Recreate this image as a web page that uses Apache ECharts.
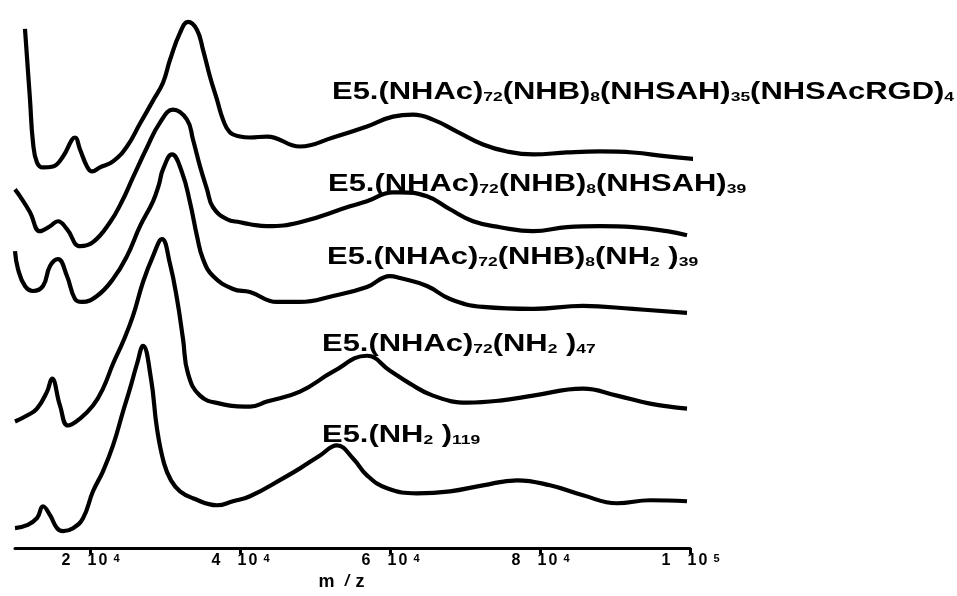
<!DOCTYPE html>
<html><head><meta charset="utf-8">
<script src="https://cdn.jsdelivr.net/npm/echarts@6/dist/echarts.min.js"></script>
<style>html,body{margin:0;padding:0;background:#fff}#c{width:957px;height:596px}</style>
</head><body><div id="c"></div>
<script>
// x axis (m/z) ticks and labels
const mzTicks = [20000, 40000, 60000, 80000, 100000];
const tickMantissa = ['2', '4', '6', '8', '1'];
const tickExponent = ['4', '4', '4', '4', '5'];
const axisTitle = ['m', '/', 'z'];

// label text parts: alternating [normal, subscript, normal, subscript, ...]
const label1 = ['E5.(NHAc)', '72', '(NHB)', '8', '(NHSAH)', '35', '(NHSAcRGD)', '4'];
const label2 = ['E5.(NHAc)', '72', '(NHB)', '8', '(NHSAH)', '39'];
const label3 = ['E5.(NHAc)', '72', '(NHB)', '8', '(NH', '2', ' )', '39'];
const label4 = ['E5.(NHAc)', '72', '(NH', '2', ' )', '47'];
const label5 = ['E5.(NH', '2', ' )', '119'];

// spectra: [m/z, stacked intensity (a.u., vertical offset included)]
const spec1 = [[11330,104.2],[12000,90],[12400,81.4],[12930,77.4],[13730,76.4],[15070,76.6],[16400,78.6],[17600,82],[18000,82.4],[18670,80],[19600,76.6],[20270,75.6],[21330,76.4],[23070,77.6],[24930,80.6],[26670,85.2],[28400,89.8],[29730,93.4],[30670,98],[32000,103.4],[33070,105.6],[34270,104],[35070,100],[36000,94.6],[36930,90],[37730,86],[38670,83.4],[40000,82.6],[41330,82.4],[43600,82.6],[48000,80.6],[52400,82.4],[56930,84.6],[60400,86.6],[63070,87],[65730,86],[68930,83.6],[72400,81],[75600,79.6],[79070,79],[83600,79.4],[88000,79.6],[92400,79.4],[96930,78.6],[101330,78]];
const spec2 = [[10000,72],[10670,70.6],[12000,67.4],[13330,63.6],[14670,64.6],[15730,65.6],[16930,64],[18670,60.6],[20400,61.4],[22670,65.4],[24270,69.6],[25730,74.4],[27600,80.4],[29330,85.4],[31070,88],[32930,86],[33730,82],[34670,76.6],[35600,72],[36400,68.4],[38270,66],[40000,65.4],[41330,65],[43600,64.6],[48000,65.4],[54670,68.6],[56930,69.6],[60400,71.4],[61330,71.4],[64930,70.6],[68000,68],[71070,65.6],[74670,64.4],[79070,63.6],[83600,64.4],[88000,64.6],[92400,64.4],[96930,63.6],[99600,62.8]];
const spec3 = [[10000,59.6],[10400,56],[11330,52.6],[12400,51.6],[13730,52.6],[14670,56.6],[15730,58],[16930,54.6],[18000,50],[18930,49.4],[20930,50.6],[23070,54],[24930,58.6],[26670,64.6],[28400,69.6],[29200,73],[29730,76],[30930,79],[32270,75.4],[33330,69.4],[34270,62.6],[35070,58],[36400,54.6],[39070,52],[41330,51.4],[44930,49.4],[48000,49.4],[52400,50.6],[56930,52.4],[60000,54.6],[61330,54.2],[64930,52.6],[68000,50],[72400,48.4],[79070,48],[85730,48.6],[92400,48],[99600,47.2]];
const spec4 = [[10000,25.4],[11600,26.6],[12930,28],[14270,31.4],[14930,34],[16000,28.6],[17070,24.6],[18670,26],[20400,28.6],[21730,32],[23070,37],[24400,41.4],[25730,46.6],[27070,53.4],[28400,58.6],[29600,62],[30670,57],[31600,50],[32400,42],[33070,35],[34670,30.6],[37330,29],[41330,28.4],[43600,29.4],[48000,31.4],[52400,35.4],[56930,38.6],[60000,35.6],[62670,33],[65730,30.6],[70270,29.2],[74670,29.6],[79070,30.6],[85730,32],[90270,30.6],[94670,29],[99600,28]];
const spec5 = [[10000,4],[11600,4.6],[12930,6],[13730,8.4],[14670,6.6],[15600,4],[16400,3.4],[17730,4],[19070,6],[20400,11.4],[21730,15.4],[23070,20.6],[24400,27.4],[25330,32],[26270,37],[27070,40.6],[28130,34],[28930,24],[29870,17],[30800,13.6],[32000,11.4],[33730,10],[36930,8.6],[39070,9.4],[41330,10.4],[45730,14],[48000,16],[50670,18.6],[52930,20.6],[55070,18],[56930,14.6],[59600,12],[63600,11],[68000,11.4],[72400,12.6],[76930,13.6],[81330,12.6],[85730,10.6],[90270,9],[94670,9.6],[99600,9.4]];

const spectra = [spec1, spec2, spec3, spec4, spec5];
const labels = [label1, label2, label3, label4, label5];

function richText(parts) {
  return parts.map((p, i) => (i % 2 === 0 ? '{m|' + p + '}' : '{s|' + p + '}')).join('');
}

const FONT = '"Liberation Sans", Arial, sans-serif';
const labelRich = {
  m: { fontSize: 23, fontWeight: 'bold', fontFamily: FONT, lineHeight: 42, verticalAlign: 'bottom', color: '#000' },
  s: { fontSize: 13, fontWeight: 'bold', fontFamily: FONT, lineHeight: 9, verticalAlign: 'bottom', color: '#000' }
};
// label placement (left edge, top of text box)
const labelPos = [[332, 62], [328, 154], [327, 227], [322, 314], [322, 405]];

const chart = echarts.init(document.getElementById('c'), null, { renderer: 'canvas' });
chart.setOption({
  animation: false,
  backgroundColor: '#fff',
  grid: { left: 15, right: 267, top: 0, bottom: 46, containLabel: false },
  xAxis: {
    type: 'value', min: 10000, max: 100000,
    name: '{a|' + axisTitle[0] + '}{b|' + axisTitle[1] + '}{c|' + axisTitle[2] + '}',
    nameLocation: 'middle', nameGap: 22,
    nameTextStyle: {
      padding: [0, 22, 0, 0],
      rich: {
        a: { fontSize: 18, fontWeight: 'bold', fontFamily: FONT, color: '#000', width: 24, align: 'left' },
        b: { fontSize: 16, fontWeight: 'bold', fontStyle: 'italic', fontFamily: FONT, color: '#000', width: 9, align: 'center' },
        c: { fontSize: 18, fontWeight: 'bold', fontFamily: FONT, color: '#000', width: 13, align: 'right' }
      }
    },
    axisLine: { show: true, lineStyle: { color: '#000', width: 3 } },
    axisTick: { show: true, customValues: mzTicks, length: 6, lineStyle: { color: '#000', width: 3 } },
    axisLabel: {
      show: true, customValues: mzTicks, margin: 5,
      formatter: function (v) {
        const i = mzTicks.indexOf(v);
        return '{d|' + tickMantissa[i] + '}{g| }{d|1}{d|0}{e|' + tickExponent[i] + '}';
      },
      rich: {
        d: { fontSize: 16, fontWeight: 'bold', fontFamily: FONT, color: '#000', width: 11, align: 'center', lineHeight: 15, verticalAlign: 'bottom' },
        g: { fontSize: 15, width: 15, lineHeight: 15, verticalAlign: 'bottom' },
        e: { fontSize: 11, fontWeight: 'bold', fontFamily: FONT, color: '#000', width: 11, align: 'right', lineHeight: 9, verticalAlign: 'top' }
      }
    },
    splitLine: { show: false }
  },
  yAxis: { type: 'value', min: 0, max: 110, show: false, splitLine: { show: false } },
  series: spectra.map((d, i) => ({
    type: 'line', name: labels[i].join(''), data: d, showSymbol: false, clip: false,
    smooth: 0.45,
    lineStyle: { color: '#000', width: 4.2 }
  })),
  graphic: labels.map((parts, i) => ({
    type: 'text', x: labelPos[i][0], y: labelPos[i][1], scaleX: 1.345, originX: 0, originY: 0,
    style: { text: richText(parts), rich: labelRich, align: 'left', verticalAlign: 'top', fill: '#000',
             fontSize: 23, fontWeight: 'bold', fontFamily: FONT }
  }))
});
</script></body></html>
